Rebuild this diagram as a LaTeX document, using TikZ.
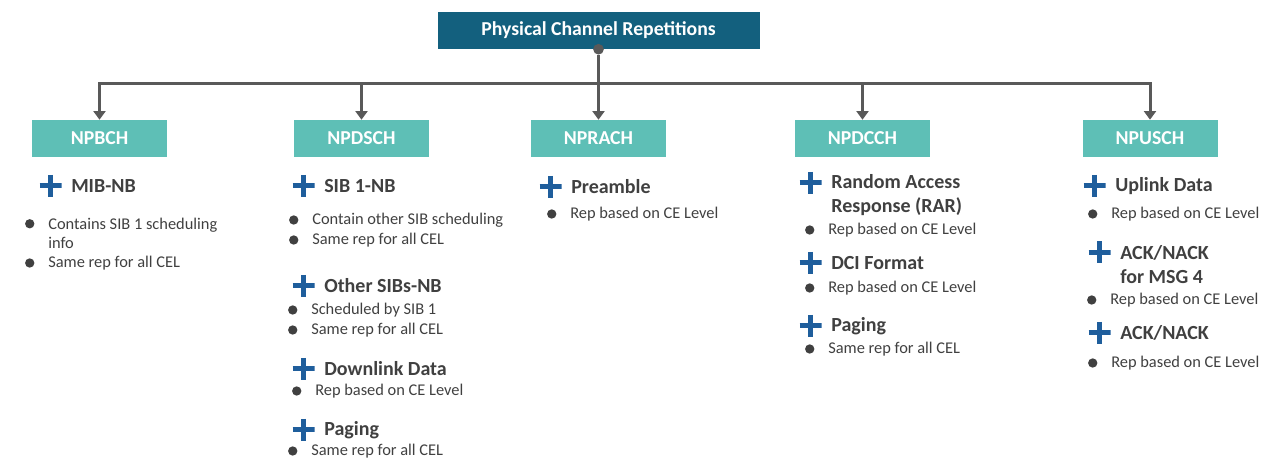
\documentclass[tikz,border=0pt]{standalone}
\usepackage{fontspec}
\setmainfont{Carlito}
\usetikzlibrary{arrows.meta, positioning}

\definecolor{titleblue}{HTML}{13607E}
\definecolor{chanteal}{HTML}{5EBFB6}
\definecolor{plusblue}{HTML}{1F5E9C}
\definecolor{linegray}{HTML}{595959}
\definecolor{txtgray}{HTML}{404040}

\begin{document}
\begin{tikzpicture}[
  x=0.75pt, y=-0.75pt,
  link/.style={draw=linegray, line width=2.25pt},
  arrow/.style={link, -{Triangle[length=6.5pt,width=9pt]}},
  topbox/.style={
    fill=titleblue,
    text=white,
    font=\fontsize{14.8}{17}\selectfont\bfseries,
    minimum width=241.5pt,
    minimum height=27.75pt
  },
  chanbox/.style={
    fill=chanteal,
    text=white,
    font=\fontsize{14.8}{17}\selectfont\bfseries,
    minimum width=101.25pt,
    minimum height=27.75pt
  },
  hubdot/.style={circle, fill=linegray, minimum size=8pt, inner sep=0pt},
  plusmark/.style={
    minimum size=16.5pt, inner sep=0pt, label distance=6pt,
    path picture={
      \draw[plusblue, line width=3.75pt]
        (path picture bounding box.north) -- (path picture bounding box.south)
        (path picture bounding box.west) -- (path picture bounding box.east);
    }
  },
  bulletdot/.style={circle, fill=txtgray, minimum size=7pt, inner sep=0pt, label distance=9.25pt},
  head/.style={
    anchor=west, inner sep=0.75pt, align=left,
    text=txtgray, font=\fontsize{15}{18}\selectfont\bfseries,
    label={[plusmark]left:{}}
  },
  headtwo/.style={
    anchor=west, inner sep=0.75pt, align=left,
    text=txtgray, font=\fontsize{15}{18}\selectfont\bfseries,
    label={[plusmark, yshift=9pt]left:{}}
  },
  item/.style={
    anchor=west, inner sep=0.75pt, align=left,
    text=txtgray, font=\fontsize{12.3}{14.6}\selectfont,
    label={[bulletdot]left:{}}
  },
  itemtwo/.style={
    anchor=west, inner sep=0.75pt, align=left,
    text=txtgray, font=\fontsize{12.3}{14.6}\selectfont,
    label={[bulletdot, yshift=7.3pt]left:{}}
  }
]
\useasboundingbox (0,0) rectangle (1271,473);

% =========================
% Top and channels
% =========================
\node[topbox] (title) at (598.5,30.5) {Physical Channel Repetitions};
\node[hubdot] (hub) at (title.south) {};
\coordinate (bus) at (598.5,84);

\node[chanbox] (npbch)  at (99.5,138.5)  {NPBCH};
\node[chanbox] (npdsch) at (361.5,138.5) {NPDSCH};
\node[chanbox] (nprach) at (598.5,138.5) {NPRACH};
\node[chanbox] (npdcch) at (862.5,138.5) {NPDCCH};
\node[chanbox] (npusch) at (1150,138.5)  {NPUSCH};

\draw[link] (hub) -- (bus);
\draw[link, line cap=rect] (npbch.north |- bus) -- (npusch.north |- bus);
\foreach \ch in {npbch,npdsch,nprach,npdcch,npusch}
  \draw[arrow] (\ch.north |- bus) -- (\ch.north);

% =========================
% NPBCH
% =========================
\node[head] (mib) at (70,186) {MIB-NB};
\node[itemtwo] (mibA) at (47,233.5) {Contains SIB 1 scheduling\\info};
\node[item] (mibB) at (47,263) {Same rep for all CEL};

% =========================
% NPDSCH
% =========================
\node[head] (sib) at (323,186) {SIB 1-NB};
\node[item] (sibA) at (311,220) {Contain other SIB scheduling};
\node[item] (sibB) at (311,240) {Same rep for all CEL};

\node[head] (osib) at (323,286) {Other SIBs-NB};
\node[item] (osibA) at (310,310) {Scheduled by SIB 1};
\node[item] (osibB) at (310,330) {Same rep for all CEL};

\node[head] (dldata) at (323,369) {Downlink Data};
\node[item] (dldataA) at (314,391) {Rep based on CE Level};

\node[head] (dpaging) at (323,430) {Paging};
\node[item] (dpagingA) at (310,451) {Same rep for all CEL};

% =========================
% NPRACH
% =========================
\node[head] (pream) at (570,187) {Preamble};
\node[item] (preamA) at (569,214) {Rep based on CE Level};

% =========================
% NPDCCH
% =========================
\node[headtwo] (rar) at (830,195) {Random Access\\Response (RAR)};
\node[item] (rarA) at (827,230) {Rep based on CE Level};

\node[head] (dci) at (830,263) {DCI Format};
\node[item] (dciA) at (827,288) {Rep based on CE Level};

\node[head] (cpaging) at (830,326) {Paging};
\node[item] (cpagingA) at (827,349) {Same rep for all CEL};

% =========================
% NPUSCH
% =========================
\node[head] (uldata) at (1114,186) {Uplink Data};
\node[item] (uldataA) at (1110,214) {Rep based on CE Level};

\node[headtwo] (ackmsg) at (1119,264.5) {ACK/NACK\\for MSG 4};
\node[item] (ackmsgA) at (1109,300) {Rep based on CE Level};

\node[head] (ack) at (1119,333) {ACK/NACK};
\node[item] (ackA) at (1110,363) {Rep based on CE Level};

\end{tikzpicture}
\end{document}
